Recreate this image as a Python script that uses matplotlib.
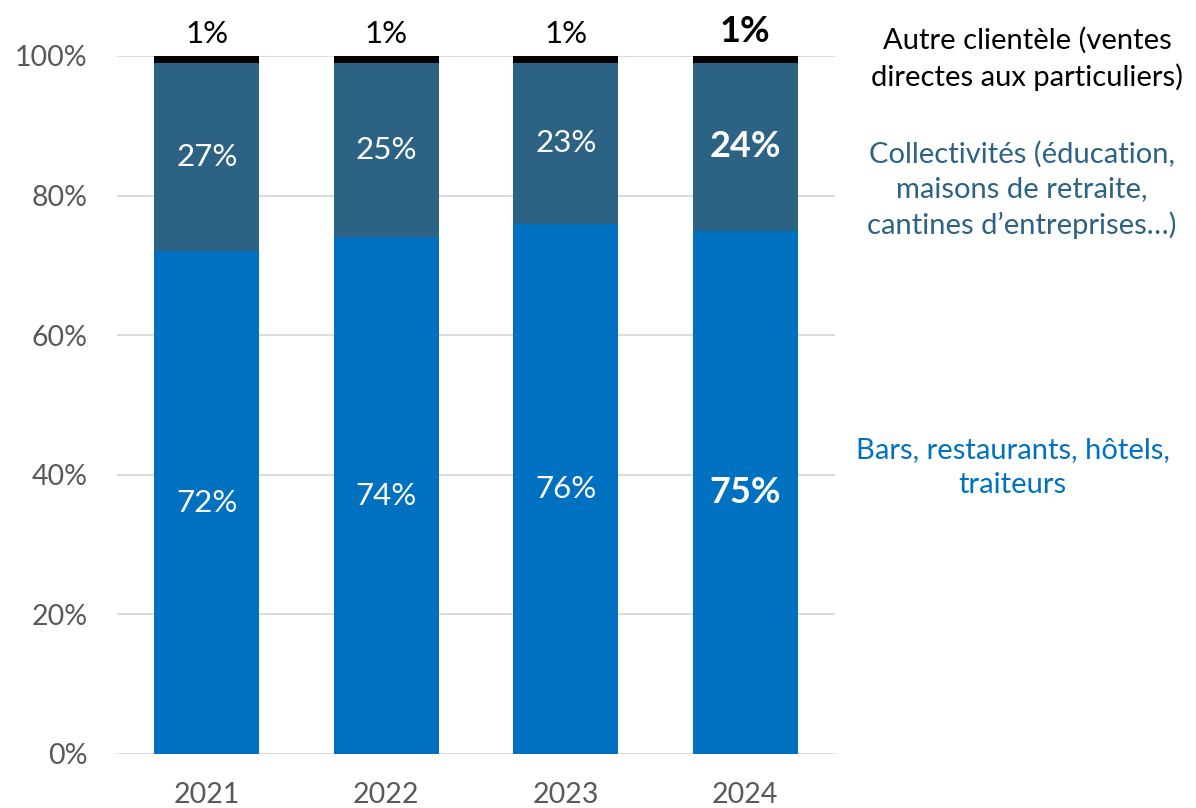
import numpy as np
import matplotlib
matplotlib.use("Agg")
import matplotlib.pyplot as plt

plt.rcParams['font.family'] = ['Lato', 'DejaVu Sans']

YEARS = ["2021", "2022", "2023", "2024"]
BARS_REST = [72, 74, 76, 75]      # Bars, restaurants, hôtels, traiteurs
COLLECT = [27, 25, 23, 24]        # Collectivités
AUTRE = [1, 1, 1, 1]              # Autre clientèle

C_BLUE = "#0070C0"
C_TEAL = "#2C6384"
C_BLACK = "#000000"

fig = plt.figure(figsize=(11.96, 8.08), dpi=100)
ax = fig.add_axes([117/1196, 1 - 754/808, (835-117)/1196, (754-56)/808])

x = np.arange(len(YEARS))
w = 0.585
b1 = np.array(BARS_REST)
b2 = np.array(COLLECT)
b3 = np.array(AUTRE)
ax.bar(x, b1, w, color=C_BLUE, zorder=2)
ax.bar(x, b2, w, bottom=b1, color=C_TEAL, zorder=2)
ax.bar(x, b3, w, bottom=b1 + b2, color=C_BLACK, zorder=2)

for i in range(len(YEARS)):
    last = i == len(YEARS) - 1
    fw = "bold" if last else "normal"
    fs = 26 if last else 22.5
    ax.text(x[i], b1[i] / 2, f"{b1[i]}%", ha="center", va="center",
            color="white", fontsize=fs, fontweight=fw, zorder=3)
    ax.text(x[i], b1[i] + b2[i] / 2, f"{b2[i]}%", ha="center", va="center",
            color="white", fontsize=fs, fontweight=fw, zorder=3)
    ax.text(x[i], b1[i] + b2[i] + b3[i] + 1.2, f"{b3[i]}%", ha="center", va="bottom",
            color="black", fontsize=fs, fontweight=fw, zorder=3)

ax.set_xlim(-0.5, 3.5)
ax.set_ylim(0, 100)
ax.set_yticks(np.arange(0, 101, 20))
ax.set_yticklabels([f"{v}%" for v in range(0, 101, 20)])
ax.set_xticks(x)
ax.set_xticklabels(YEARS)
ax.tick_params(axis="both", length=0, labelsize=20.5, colors="#595959")
ax.tick_params(axis="x", pad=20)
ax.tick_params(axis="y", pad=21)
ax.grid(True, axis="y", color="#D9D9D9", lw=1.3, zorder=0)
for s in ax.spines.values():
    s.set_visible(False)

# series names on the right
ax.text(4.57, 99.6, "Autre clientèle (ventes\ndirectes aux particuliers)", ha="center", va="center",
        color="black", fontsize=21, linespacing=1.42, clip_on=False)
ax.text(4.54, 80.8, "Collectivités (éducation,\nmaisons de retraite,\ncantines d’entreprises…)", ha="center",
        va="center", color=C_TEAL, fontsize=21, linespacing=1.42, clip_on=False)
ax.text(4.49, 41.1, "Bars, restaurants, hôtels,\ntraiteurs", ha="center", va="center",
        color=C_BLUE, fontsize=21, linespacing=1.42, clip_on=False)

fig.savefig("out.png", dpi=100)
